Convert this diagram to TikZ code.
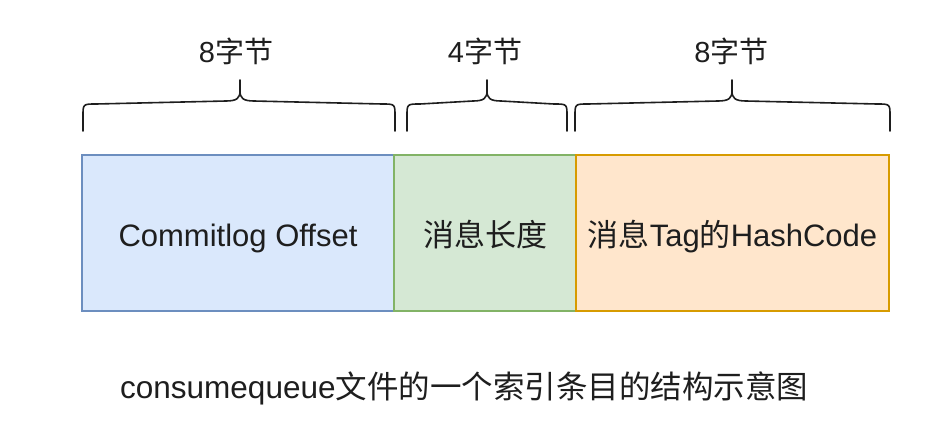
\documentclass[tikz,border=0pt]{standalone}
\usepackage{fontspec}
\setmainfont{Liberation Sans}
\newfontfamily\cjk{Noto Sans CJK SC}
\definecolor{blueFill}{HTML}{DAE8FC}
\definecolor{blueLine}{HTML}{6C8EBF}
\definecolor{greenFill}{HTML}{D5E8D4}
\definecolor{greenLine}{HTML}{82B366}
\definecolor{orangeFill}{HTML}{FFE6CC}
\definecolor{orangeLine}{HTML}{D79B00}
\definecolor{ink}{HTML}{1E1E1E}

% curly brace: left end, tip, right end (x values)
\newcommand\curlybrace[3]{%
  \draw[bracket] (#1,131) -- (#1,116) .. controls (#1,104) .. (#1+13,104)
    -- (#2-14,101) .. controls (#2-3,101) and (#2,98) .. (#2,91) -- (#2,80)
    (#2,91) .. controls (#2,98) and (#2+3,101) .. (#2+14,101)
    -- (#3-13,104) .. controls (#3,104) .. (#3,116) -- (#3,131);}

\begin{document}
\begin{tikzpicture}[x=1pt,y=-1pt,
  field/.style={draw, line width=1.2pt, inner sep=0pt, outer sep=0pt,
    minimum height=156pt, text=ink, text height=26pt, text depth=0pt,
    font=\fontsize{31}{37}\selectfont},
  bracket/.style={draw=ink, line width=1.6pt, line cap=round, line join=round},
  lbl/.style={inner sep=0pt, text=ink, font=\fontsize{29}{35}\selectfont}]
\useasboundingbox[fill=white] (0,0) rectangle (926,434);

% the three fields of one index entry
\node[field, fill=blueFill, draw=blueLine, minimum width=312pt]
  (offset) at (238,233) {Commitlog Offset};
\node[field, fill=greenFill, draw=greenLine, minimum width=182pt]
  (size) at (485,233) {\cjk 消息长度};
\node[field, fill=orangeFill, draw=orangeLine, minimum width=313pt]
  (hash) at (732.5,233) {{\cjk 消息}Tag{\cjk 的}HashCode};

% braces with byte counts
\curlybrace{83}{240}{395}
\curlybrace{407}{487}{567}
\curlybrace{575}{732}{890}
\node[lbl] (w1) at (236,51) {8{\cjk 字节}};
\node[lbl] (w2) at (485,51) {4{\cjk 字节}};
\node[lbl] (w3) at (731.5,51) {8{\cjk 字节}};

% caption
\node[lbl, anchor=west, font=\fontsize{31.5}{38}\selectfont] (cap) at (120,388)
  {consumequeue{\cjk 文件的一个索引条目的结构示意图}};
\end{tikzpicture}
\end{document}
